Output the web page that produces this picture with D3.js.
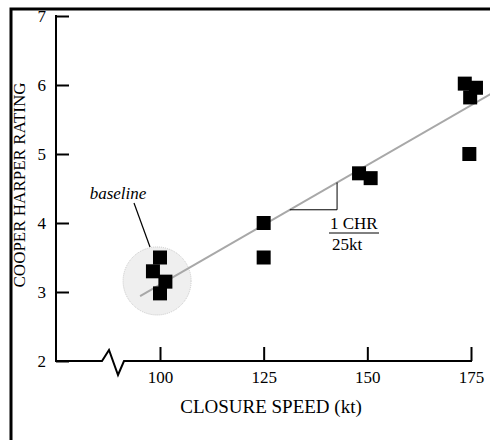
<!DOCTYPE html>
<html>
<head>
<meta charset="utf-8">
<script src="https://cdn.jsdelivr.net/npm/d3@7"></script>
<style>
  html, body { margin: 0; padding: 0; background: #fff; }
  svg { display: block; }
  text { font-family: "Liberation Serif", "Times New Roman", serif; fill: #000; }
</style>
</head>
<body>
<script>
// ---- data ----
const speeds  = [100, 98.3, 101.3, 100, 125, 125, 148, 150.8, 173.5, 176.2, 174.8, 174.6];
const ratings = [3.5, 3.3, 3.15, 2.98, 4.0, 3.5, 4.72, 4.65, 6.02, 5.96, 5.82, 5.0];
const fitSpeeds  = [95.2, 180];
const fitRatings = [2.94, 5.88];
const xTicks = [100, 125, 150, 175];
const yTicks = [2, 3, 4, 5, 6, 7];
const slopeSpeeds = [131.3, 142.7];
const baselineCenter = [99.3, 3.16];

const W = 490, H = 440;
const svg = d3.select("body").append("svg").attr("width", W).attr("height", H);

const x = d3.scaleLinear().domain([100, 175]).range([160, 471]);
const y = d3.scaleLinear().domain([2, 7]).range([361, 16]);
const fitY = d3.scaleLinear().domain(fitSpeeds).range(fitRatings);

// frame (partially cropped)
svg.append("path").attr("d", `M11,${H + 5} V9 H${W + 5}`)
  .attr("fill", "none").attr("stroke", "#000").attr("stroke-width", 3);

// baseline circle
const cx = x(baselineCenter[0]), cy = y(baselineCenter[1]);
svg.append("circle").attr("cx", cx).attr("cy", cy).attr("r", 34)
  .attr("fill", "#efefef").attr("stroke", "#c8c8c8").attr("stroke-width", 1)
  .attr("stroke-dasharray", "1,1");

// fit line
svg.append("line")
  .attr("x1", x(fitSpeeds[0])).attr("y1", y(fitRatings[0]))
  .attr("x2", x(fitSpeeds[1])).attr("y2", y(fitRatings[1]))
  .attr("stroke", "#a8a8a8").attr("stroke-width", 2);

// slope triangle
const tx0 = x(slopeSpeeds[0]), tx1 = x(slopeSpeeds[1]);
const ty0 = y(fitY(slopeSpeeds[0])), ty1 = y(fitY(slopeSpeeds[1]));
svg.append("path").attr("d", `M${tx0},${ty0} H${tx1} V${ty1}`)
  .attr("fill", "none").attr("stroke", "#000").attr("stroke-width", 1);

// squares
const S = 14;
svg.append("g").selectAll("rect").data(speeds).join("rect")
  .attr("x", (d) => x(d) - S / 2)
  .attr("y", (d, i) => y(ratings[i]) - S / 2)
  .attr("width", S).attr("height", S).attr("fill", "#000");

// Y axis
const yAxis = svg.append("g").attr("transform", "translate(56,0)")
  .call(d3.axisLeft(y).tickValues(yTicks).tickSize(-13).tickPadding(10).tickFormat(d3.format("d")));
yAxis.select(".domain").remove();
yAxis.selectAll(".tick line").attr("stroke", "#000").attr("stroke-width", 2);
yAxis.selectAll("text").style("font-size", "17px").attr("font-family", null);
svg.append("line").attr("x1", 56).attr("x2", 56).attr("y1", y(7) - 1).attr("y2", y(2) + 1)
  .attr("stroke", "#000").attr("stroke-width", 2);

// X axis
const xAxis = svg.append("g").attr("transform", `translate(0,${y(2)})`)
  .call(d3.axisBottom(x).tickValues(xTicks).tickSize(-14).tickPadding(10).tickFormat(d3.format("d")));
xAxis.select(".domain").remove();
xAxis.selectAll(".tick line").attr("stroke", "#000").attr("stroke-width", 2);
xAxis.selectAll("text").style("font-size", "17px").attr("font-family", null);

// x axis line with break
const y0 = y(2);
svg.append("path")
  .attr("d", `M56,${y0} H102 L109,${y0 - 11} L118,${y0 + 14} L124,${y0} H${x(175) + 1}`)
  .attr("fill", "none").attr("stroke", "#000").attr("stroke-width", 2).attr("stroke-linejoin", "miter");

// axis titles
svg.append("text").attr("x", 271).attr("y", 413).attr("text-anchor", "middle")
  .style("font-size", "19px").text("CLOSURE SPEED (kt)");
svg.append("text").attr("transform", "translate(25,185) rotate(-90)").attr("text-anchor", "middle")
  .style("font-size", "17px").text("COOPER HARPER RATING");

// baseline label
svg.append("text").attr("x", 118).attr("y", 199).attr("text-anchor", "middle")
  .style("font-size", "17px").style("font-style", "italic").text("baseline");
svg.append("line").attr("x1", 134).attr("y1", 203).attr("x2", 150).attr("y2", 247)
  .attr("stroke", "#000").attr("stroke-width", 1.2);

// slope label
svg.append("text").attr("x", 330).attr("y", 229).style("font-size", "17px").text("1 CHR");
svg.append("line").attr("x1", 329).attr("x2", 379).attr("y1", 233).attr("y2", 233)
  .attr("stroke", "#000").attr("stroke-width", 1);
svg.append("text").attr("x", 332).attr("y", 250).style("font-size", "17px").text("25kt");
</script>
</body>
</html>
